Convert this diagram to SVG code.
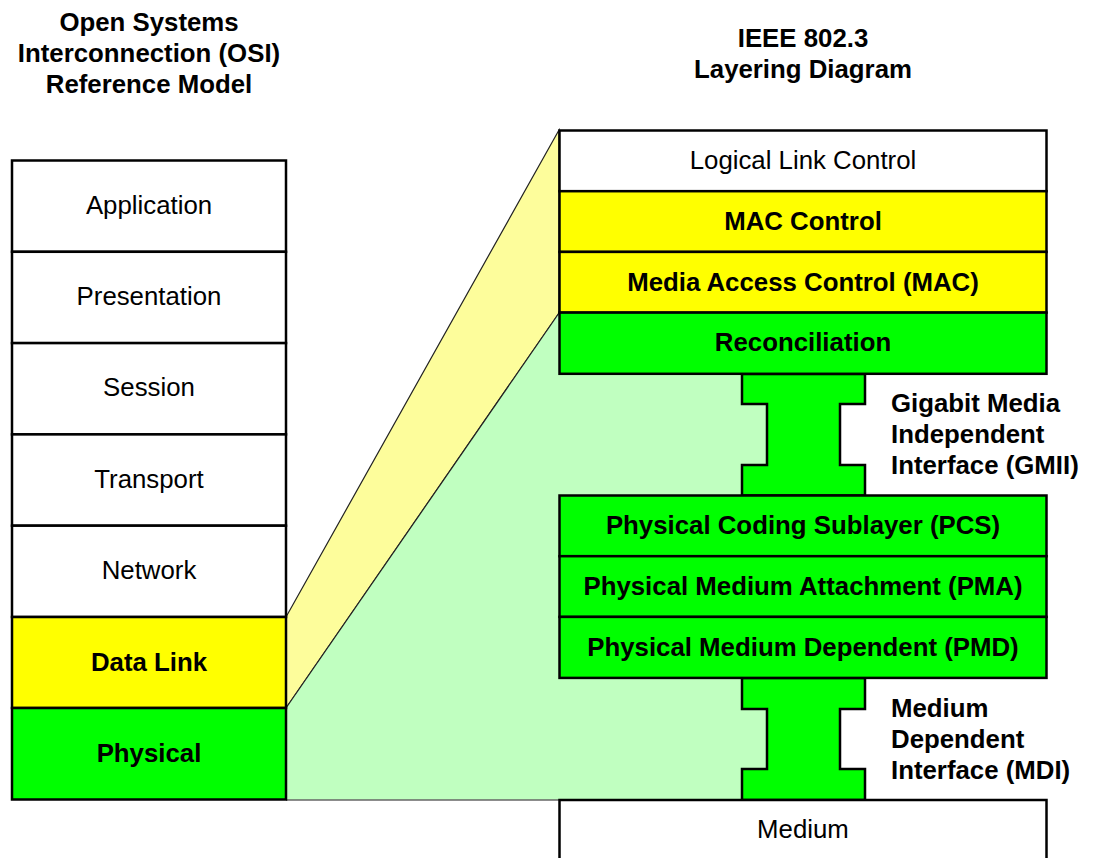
<svg xmlns="http://www.w3.org/2000/svg" width="1095" height="858" viewBox="0 0 1095 858">
<style>
text{font-family:"Liberation Sans",Arial,sans-serif;font-size:25.8px;fill:#000}
.c{text-anchor:middle}
.b{font-weight:bold}
.box{stroke:#000;stroke-width:2.5}
.w{fill:#fff}
.y{fill:#ffff00}
.g{fill:#00ff00}
</style>
<rect width="1095" height="858" fill="#fff"/>
<g id="titles">
<text class="c b" x="149" y="31">Open Systems</text>
<text class="c b" x="149" y="62">Interconnection (OSI)</text>
<text class="c b" x="149" y="93">Reference Model</text>
<text class="c b" x="803" y="47">IEEE 802.3</text>
<text class="c b" x="803" y="78">Layering Diagram</text>
</g>
<g id="connectors">
<polygon points="286,617 559,130 559,313 286,708" fill="#fdfd9b" stroke="#222" stroke-width="1.2"/>
<polygon points="286,708 559,313 767,313 767,800 286,800" fill="#c0ffc0" stroke="none"/>
<line x1="286" y1="708" x2="559" y2="313" stroke="#222" stroke-width="1.2"/>
<line x1="286" y1="800" x2="742" y2="800" stroke="#666" stroke-width="1.5"/>
</g>
<g id="osi-application"><rect class="box w" x="12" y="160.5" width="274" height="91.3"/><text class="c" x="149" y="214">Application</text></g>
<g id="osi-presentation"><rect class="box w" x="12" y="251.8" width="274" height="91.3"/><text class="c" x="149" y="305">Presentation</text></g>
<g id="osi-session"><rect class="box w" x="12" y="343.1" width="274" height="91.3"/><text class="c" x="149" y="396">Session</text></g>
<g id="osi-transport"><rect class="box w" x="12" y="434.4" width="274" height="91.3"/><text class="c" x="149" y="488">Transport</text></g>
<g id="osi-network"><rect class="box w" x="12" y="525.7" width="274" height="91.3"/><text class="c" x="149" y="579">Network</text></g>
<g id="osi-datalink"><rect class="box y" x="12" y="617" width="274" height="91"/><text class="c b" x="149" y="671">Data Link</text></g>
<g id="osi-physical"><rect class="box g" x="12" y="708" width="274" height="91.5"/><text class="c b" x="149" y="762">Physical</text></g>
<g id="gmii"><path class="box g" d="M742,374 H865 V404 H840 V465 H865 V495.5 H742 V465 H767 V404 H742 Z"/>
<text class="b" x="891" y="412">Gigabit Media</text><text class="b" x="891" y="443">Independent</text><text class="b" x="891" y="474">Interface (GMII)</text></g>
<g id="mdi"><path class="box g" d="M742,678 H865 V709 H840 V769 H865 V800 H742 V769 H767 V709 H742 Z"/>
<text class="b" x="891" y="717">Medium</text><text class="b" x="891" y="748">Dependent</text><text class="b" x="891" y="779">Interface (MDI)</text></g>
<g id="llc"><rect class="box w" x="559.5" y="130.5" width="487" height="60.7"/><text class="c" x="803" y="169">Logical Link Control</text></g>
<g id="mac-control"><rect class="box y" x="559.5" y="191.2" width="487" height="60.7"/><text class="c b" x="803" y="230">MAC Control</text></g>
<g id="mac"><rect class="box y" x="559.5" y="251.9" width="487" height="60.7"/><text class="c b" x="803" y="291">Media Access Control (MAC)</text></g>
<g id="reconciliation"><rect class="box g" x="559.5" y="312.6" width="487" height="61.2"/><text class="c b" x="803" y="351">Reconciliation</text></g>
<g id="pcs"><rect class="box g" x="559.5" y="495.5" width="487" height="60.7"/><text class="c b" x="803" y="534">Physical Coding Sublayer (PCS)</text></g>
<g id="pma"><rect class="box g" x="559.5" y="556.2" width="487" height="60.7"/><text class="c b" x="803" y="595">Physical Medium Attachment (PMA)</text></g>
<g id="pmd"><rect class="box g" x="559.5" y="616.9" width="487" height="61"/><text class="c b" x="803" y="656">Physical Medium Dependent (PMD)</text></g>
<g id="medium"><rect class="box w" x="559.5" y="800" width="487" height="70"/><text class="c" x="803" y="838">Medium</text></g>
</svg>
